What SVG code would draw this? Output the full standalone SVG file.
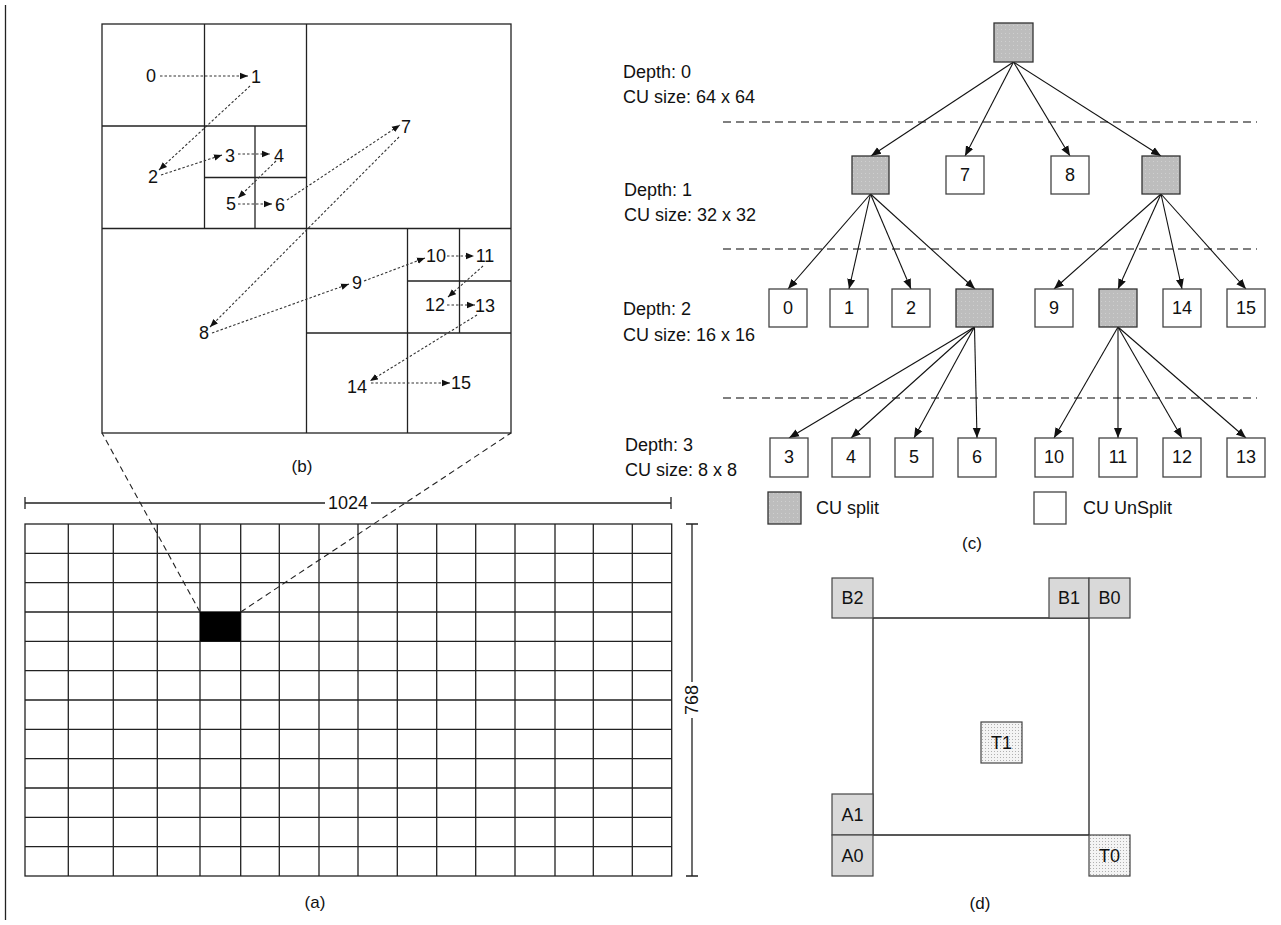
<svg xmlns="http://www.w3.org/2000/svg" width="1281" height="925" viewBox="0 0 1281 925">
<style>
text{font-family:"Liberation Sans",Arial,sans-serif;fill:#111;}
.lbl{font-size:18px;text-anchor:middle;dominant-baseline:central;}
.cap{font-size:17px;text-anchor:middle;dominant-baseline:central;}
.nl{font-size:18px;text-anchor:middle;dominant-baseline:central;}
.dl{font-size:18px;dominant-baseline:central;}
.ln{stroke:#222;stroke-width:1.3;fill:none;}
.cell{stroke:#222;stroke-width:1.3;fill:none;}
.dot{stroke:#333;stroke-width:1.1;stroke-dasharray:2.5 2;fill:none;marker-end:url(#ah);}
.dash{stroke:#222;stroke-width:1.1;stroke-dasharray:6 4;fill:none;}
.lvl{stroke:#555;stroke-width:1.4;stroke-dasharray:8 5;fill:none;}
.edge{stroke:#111;stroke-width:1.1;fill:none;marker-end:url(#ta);}
.split{fill:url(#sp);stroke:#333;stroke-width:1.3;}
.uns{fill:#fff;stroke:#444;stroke-width:1.3;}
.nb{fill:#d9d9d9;stroke:#444;stroke-width:1.2;}
.tb{fill:url(#td);stroke:#444;stroke-width:1.2;}
</style>
<defs>
<marker id="ah" markerUnits="userSpaceOnUse" markerWidth="8" markerHeight="8" viewBox="0 0 8 8" refX="8" refY="4" orient="auto"><path d="M0,0.8 L8,4 L0,7.2 Z" fill="#111"/></marker>
<marker id="ta" markerUnits="userSpaceOnUse" markerWidth="10" markerHeight="10" viewBox="0 0 10 10" refX="10" refY="5" orient="auto"><path d="M0,1 L10,5 L0,9 Z" fill="#111"/></marker>
<pattern id="sp" patternUnits="userSpaceOnUse" width="4" height="4"><rect width="4" height="4" fill="#bdbdbd"/><rect x="1" y="1" width="1" height="1" fill="#cfcfcf"/></pattern>
<pattern id="td" patternUnits="userSpaceOnUse" width="3" height="3"><rect width="3" height="3" fill="#f4f4f4"/><rect x="1" y="1" width="1" height="1" fill="#b0b0b0"/></pattern>
</defs>
<rect width="1281" height="925" fill="#fff"/>
<line x1="5.5" y1="5" x2="5.5" y2="920" stroke="#222" stroke-width="1.3"/>

<!-- (b) quadtree -->
<g id="quadtree">
<rect x="102" y="24" width="409" height="409" class="cell"/>
<line x1="306.5" y1="24" x2="306.5" y2="433" class="cell"/>
<line x1="102" y1="228.5" x2="511" y2="228.5" class="cell"/>
<line x1="204.5" y1="24" x2="204.5" y2="228.5" class="cell"/>
<line x1="102" y1="126" x2="306.5" y2="126" class="cell"/>
<line x1="255" y1="126" x2="255" y2="228.5" class="cell"/>
<line x1="204.5" y1="177.5" x2="306.5" y2="177.5" class="cell"/>
<line x1="407.5" y1="228.5" x2="407.5" y2="433" class="cell"/>
<line x1="306.5" y1="333" x2="511" y2="333" class="cell"/>
<line x1="459.5" y1="228.5" x2="459.5" y2="333" class="cell"/>
<line x1="407.5" y1="281" x2="511" y2="281" class="cell"/>
<text class="lbl" x="151" y="76">0</text>
<text class="lbl" x="256" y="77">1</text>
<text class="lbl" x="153" y="177">2</text>
<text class="lbl" x="230" y="156">3</text>
<text class="lbl" x="279" y="156">4</text>
<text class="lbl" x="231" y="204">5</text>
<text class="lbl" x="280" y="205">6</text>
<text class="lbl" x="406" y="127">7</text>
<text class="lbl" x="204" y="333">8</text>
<text class="lbl" x="357" y="283">9</text>
<text class="lbl" x="436" y="256">10</text>
<text class="lbl" x="485" y="256">11</text>
<text class="lbl" x="435" y="305">12</text>
<text class="lbl" x="485" y="306">13</text>
<text class="lbl" x="357" y="387">14</text>
<text class="lbl" x="461" y="383">15</text>
<text class="cap" x="302" y="466">(b)</text>
</g>
<g id="scan-order">
<line class="dot" x1="160" y1="76" x2="248" y2="76"/>
<line class="dot" x1="250" y1="86" x2="159" y2="170"/>
<line class="dot" x1="161" y1="175" x2="222" y2="155"/>
<line class="dot" x1="238" y1="154" x2="270" y2="154"/>
<line class="dot" x1="276" y1="161" x2="238" y2="198"/>
<line class="dot" x1="238" y1="204" x2="272" y2="204"/>
<line class="dot" x1="287" y1="200" x2="400" y2="125"/>
<line class="dot" x1="399" y1="137" x2="210" y2="327"/>
<line class="dot" x1="212" y1="333" x2="349" y2="284"/>
<line class="dot" x1="364" y1="281" x2="425" y2="258"/>
<line class="dot" x1="447" y1="256" x2="474" y2="256"/>
<line class="dot" x1="483" y1="266" x2="448" y2="297"/>
<line class="dot" x1="447" y1="305" x2="475" y2="305"/>
<line class="dot" x1="477" y1="315" x2="370" y2="381"/>
<line class="dot" x1="371" y1="383" x2="450" y2="383"/>
</g>

<!-- (a) frame grid -->
<g id="frame">
<g class="cell">
<rect x="25" y="524" width="646.7" height="352"/>
<path d="M68.3,524V876M113.3,524V876M157.3,524V876M200,524V876M240.7,524V876M279.3,524V876M319,524V876M358,524V876M397.3,524V876M436.7,524V876M475.7,524V876M515,524V876M555,524V876M593.3,524V876M632.3,524V876"/>
<path d="M25,553.3H671.7M25,582.7H671.7M25,612H671.7M25,641.3H671.7M25,670.7H671.7M25,700H671.7M25,729.3H671.7M25,758.7H671.7M25,788H671.7M25,817.3H671.7M25,846.7H671.7"/>
</g>
<rect x="200" y="612" width="40.7" height="29.3" fill="#000"/>
<path class="ln" d="M25,503H325M371,503H671M25,497V509M671,497V509"/>
<text class="dl" x="348" y="503" text-anchor="middle">1024</text>
<path class="ln" d="M692,524V682M692,718V876M686,524H698M686,876H698"/>
<text class="dl" x="692" y="700" text-anchor="middle" transform="rotate(-90 692 700)">768</text>
<text class="cap" x="315" y="902">(a)</text>
</g>
<g id="zoom-lines">
<line class="dash" x1="200" y1="612" x2="102" y2="433"/>
<line class="dash" x1="240.7" y1="612" x2="511" y2="433"/>
</g>

<!-- (c) CU tree -->
<g id="depth-labels">
<text class="dl" x="623" y="72">Depth: 0</text>
<text class="dl" x="623" y="97">CU size: 64 x 64</text>
<text class="dl" x="624" y="190">Depth: 1</text>
<text class="dl" x="624" y="215">CU size: 32 x 32</text>
<text class="dl" x="623" y="309">Depth: 2</text>
<text class="dl" x="623" y="335">CU size: 16 x 16</text>
<text class="dl" x="625" y="445">Depth: 3</text>
<text class="dl" x="625" y="470">CU size: 8 x 8</text>
<line class="lvl" x1="723" y1="122" x2="1257" y2="122"/>
<line class="lvl" x1="723" y1="249" x2="1257" y2="249"/>
<line class="lvl" x1="723" y1="398" x2="1257" y2="398"/>
</g>
<g id="tree-edges">
<line class="edge" x1="1013.5" y1="62" x2="871" y2="156"/>
<line class="edge" x1="1013.5" y1="62" x2="965" y2="156"/>
<line class="edge" x1="1013.5" y1="62" x2="1070" y2="156"/>
<line class="edge" x1="1013.5" y1="62" x2="1161" y2="156"/>
<line class="edge" x1="870.5" y1="194" x2="788" y2="289"/>
<line class="edge" x1="870.5" y1="194" x2="849" y2="289"/>
<line class="edge" x1="870.5" y1="194" x2="911" y2="289"/>
<line class="edge" x1="870.5" y1="194" x2="975" y2="289"/>
<line class="edge" x1="1161" y1="194" x2="1054" y2="289"/>
<line class="edge" x1="1161" y1="194" x2="1118" y2="289"/>
<line class="edge" x1="1161" y1="194" x2="1182" y2="289"/>
<line class="edge" x1="1161" y1="194" x2="1246" y2="289"/>
<line class="edge" x1="974.5" y1="327" x2="789" y2="438"/>
<line class="edge" x1="974.5" y1="327" x2="851" y2="438"/>
<line class="edge" x1="974.5" y1="327" x2="914" y2="438"/>
<line class="edge" x1="974.5" y1="327" x2="977" y2="438"/>
<line class="edge" x1="1118" y1="327" x2="1054" y2="438"/>
<line class="edge" x1="1118" y1="327" x2="1118" y2="438"/>
<line class="edge" x1="1118" y1="327" x2="1182" y2="438"/>
<line class="edge" x1="1118" y1="327" x2="1246" y2="438"/>
</g>
<g id="n-root"><rect class="split" x="994" y="23" width="39" height="39"/></g>
<g id="n-d1a"><rect class="split" x="852" y="156" width="37" height="38"/></g>
<g id="n-7"><rect class="uns" x="946" y="156" width="38" height="38"/><text class="nl" x="965" y="175">7</text></g>
<g id="n-8"><rect class="uns" x="1051" y="156" width="38" height="38"/><text class="nl" x="1070" y="175">8</text></g>
<g id="n-d1b"><rect class="split" x="1142" y="156" width="38" height="38"/></g>
<g id="n-0"><rect class="uns" x="769" y="289" width="38" height="38"/><text class="nl" x="788" y="308">0</text></g>
<g id="n-1"><rect class="uns" x="830" y="289" width="38" height="38"/><text class="nl" x="849" y="308">1</text></g>
<g id="n-2"><rect class="uns" x="892" y="289" width="38" height="38"/><text class="nl" x="911" y="308">2</text></g>
<g id="n-d2a"><rect class="split" x="956" y="289" width="37" height="38"/></g>
<g id="n-9"><rect class="uns" x="1035" y="289" width="38" height="38"/><text class="nl" x="1054" y="308">9</text></g>
<g id="n-d2b"><rect class="split" x="1099" y="289" width="38" height="38"/></g>
<g id="n-14"><rect class="uns" x="1163" y="289" width="38" height="38"/><text class="nl" x="1182" y="308">14</text></g>
<g id="n-15"><rect class="uns" x="1227" y="289" width="38" height="38"/><text class="nl" x="1246" y="308">15</text></g>
<g id="n-3"><rect class="uns" x="770" y="438" width="38" height="39"/><text class="nl" x="789" y="457">3</text></g>
<g id="n-4"><rect class="uns" x="832" y="438" width="38" height="39"/><text class="nl" x="851" y="457">4</text></g>
<g id="n-5"><rect class="uns" x="895" y="438" width="38" height="39"/><text class="nl" x="914" y="457">5</text></g>
<g id="n-6"><rect class="uns" x="958" y="438" width="38" height="39"/><text class="nl" x="977" y="457">6</text></g>
<g id="n-10"><rect class="uns" x="1035" y="438" width="38" height="39"/><text class="nl" x="1054" y="457">10</text></g>
<g id="n-11"><rect class="uns" x="1099" y="438" width="38" height="39"/><text class="nl" x="1118" y="457">11</text></g>
<g id="n-12"><rect class="uns" x="1163" y="438" width="38" height="39"/><text class="nl" x="1182" y="457">12</text></g>
<g id="n-13"><rect class="uns" x="1227" y="438" width="38" height="39"/><text class="nl" x="1246" y="457">13</text></g>
<g id="legend">
<rect class="split" x="768" y="492" width="33" height="32"/>
<text class="dl" x="816" y="508">CU split</text>
<rect class="uns" x="1034" y="492" width="32" height="32"/>
<text class="dl" x="1083" y="508">CU UnSplit</text>
<text class="cap" x="972" y="543">(c)</text>
</g>

<!-- (d) neighbours -->
<g id="cu-block"><path class="ln" d="M873,618H1089V835H873Z"/></g>
<g id="b2"><rect class="nb" x="832" y="578" width="41" height="40"/><text class="nl" x="852.5" y="598">B2</text></g>
<g id="b1"><rect class="nb" x="1049" y="578" width="40" height="40"/><text class="nl" x="1069" y="598">B1</text></g>
<g id="b0"><rect class="nb" x="1089" y="578" width="41" height="40"/><text class="nl" x="1109.5" y="598">B0</text></g>
<g id="a1"><rect class="nb" x="832" y="794" width="41" height="41"/><text class="nl" x="852.5" y="815">A1</text></g>
<g id="a0"><rect class="nb" x="832" y="835" width="41" height="41"/><text class="nl" x="852.5" y="856">A0</text></g>
<g id="t1"><rect class="tb" x="981" y="722" width="41" height="41"/><text class="nl" x="1001.5" y="743">T1</text></g>
<g id="t0"><rect class="tb" x="1089" y="835" width="41" height="41"/><text class="nl" x="1109.5" y="856">T0</text></g>
<text class="cap" x="980" y="903">(d)</text>
</svg>
